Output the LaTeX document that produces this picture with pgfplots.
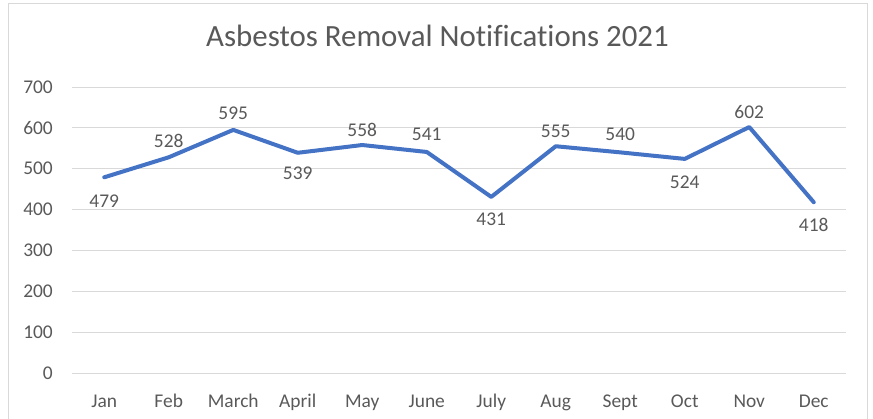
\documentclass[border=0pt]{standalone}
\usepackage{pgfplots}
\pgfplotsset{compat=1.18}
\usepackage{fontspec}
\setmainfont[Ligatures={NoCommon,NoContextual}]{Carlito}
\definecolor{txt}{RGB}{89,89,89}
\definecolor{gridc}{RGB}{217,217,217}
\definecolor{linec}{RGB}{68,114,196}
\pgfplotstableread{
x y dy
0 479 -24
1 528 16
2 595 17
3 539 -21
4 558 15
5 541 18
6 431 -22
7 555 15
8 540 18
9 524 -23
10 602 15
11 418 -23
}\datatab
\begin{document}
\begin{tikzpicture}[x=1bp,y=1bp]
\useasboundingbox (0,0) rectangle (873,418);
\draw[draw=gridc, line width=1bp] (8,-5) rectangle (867,414);
\begin{axis}[
  at={(72bp,45bp)}, anchor=south west,
  scale only axis, width=774bp, height=286bp,
  xmin=-0.5, xmax=11.5, ymin=0, ymax=700,
  ytick={0,100,...,700},
  xtick={0,...,11},
  xticklabels={Jan,Feb,March,April,May,June,July,Aug,Sept,Oct,Nov,Dec},
  axis line style={draw=none},
  tick style={draw=none},
  ymajorgrids,
  major grid style={draw=gridc, line width=1bp},
  /pgf/number format/assume math mode=true,
  ticklabel style={font=\fontsize{19.5}{23}\selectfont, text=txt, inner sep=0pt},
  yticklabel style={anchor=east, xshift=-19bp},
  xticklabel style={anchor=base, yshift=-34bp},
  clip=false,
  title={Asbestos Removal Notifications 2021},
  title style={at={(0.5,1)}, anchor=base, yshift=35bp, xshift=-21.5bp,
    font=\fontsize{31}{37}\selectfont, text=txt, inner sep=0pt},
]
\addplot[draw=linec, line width=4bp, mark=none, line join=round, line cap=round,
  nodes near coords, point meta=explicit,
  visualization depends on={\thisrow{dy} \as \dy},
  every node near coord/.append style={anchor=center, yshift=\dy,
    font=\fontsize{19.5}{23}\selectfont, text=txt, inner sep=0pt}]
  table[x=x, y=y, meta=y] {\datatab};
\end{axis}
\end{tikzpicture}
\end{document}
